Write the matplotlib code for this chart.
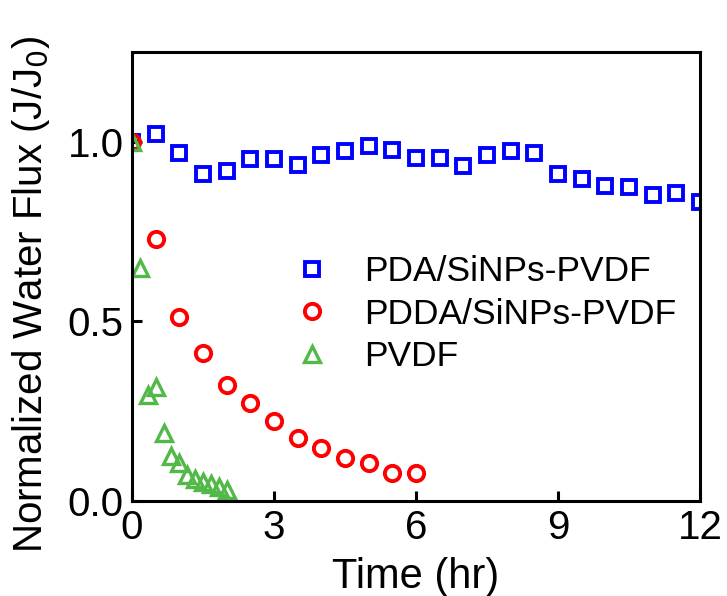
import matplotlib.pyplot as plt

plt.rcParams['font.family'] = ['Liberation Sans', 'DejaVu Sans']

# PDA/SiNPs-PVDF
t_pda = [0, 0.5, 1.0, 1.5, 2.0, 2.5, 3.0, 3.5, 4.0, 4.5, 5.0, 5.5, 6.0,
         6.5, 7.0, 7.5, 8.0, 8.5, 9.0, 9.5, 10.0, 10.5, 11.0, 11.5, 12.0]
j_pda = [1.0, 1.021, 0.969, 0.910, 0.920, 0.953, 0.952, 0.934, 0.963, 0.974, 0.988, 0.977, 0.954,
         0.954, 0.933, 0.963, 0.975, 0.970, 0.909, 0.895, 0.878, 0.874, 0.852, 0.857, 0.831]

# PDDA/SiNPs-PVDF
t_pdda = [0, 0.5, 1.0, 1.5, 2.0, 2.5, 3.0, 3.5, 4.0, 4.5, 5.0, 5.5, 6.0]
j_pdda = [1.0, 0.730, 0.512, 0.411, 0.324, 0.273, 0.222, 0.176, 0.148, 0.119, 0.106, 0.077, 0.077]

# PVDF
t_pvdf = [0, 0.17, 0.33, 0.5, 0.67, 0.83, 1.0, 1.17, 1.33, 1.5, 1.67, 1.83, 2.0]
j_pvdf = [1.0, 0.648, 0.294, 0.317, 0.189, 0.124, 0.106, 0.072, 0.062, 0.054, 0.046, 0.040, 0.030]

fig = plt.figure(figsize=(7.27, 5.96), dpi=100)
ax = fig.add_axes([0.1816, 0.1594, 0.7814, 0.7534])

ax.plot(t_pda, j_pda, 's', ls='none', ms=10.5, mfc='none', mec='#0000ff', mew=2.8,
        label='PDA/SiNPs-PVDF')
ax.plot(t_pdda, j_pdda, 'o', ls='none', ms=11, mfc='none', mec='#ff0000', mew=2.8,
        label='PDDA/SiNPs-PVDF')
ax.plot(t_pvdf, j_pvdf, '^', ls='none', ms=12, mfc='none', mec='#52b848', mew=2.4,
        label='PVDF')

ax.set_xlim(0, 12)
ax.set_ylim(0, 1.25)
ax.set_xticks([0, 3, 6, 9, 12])
ax.set_yticks([0.0, 0.5, 1.0])
ax.set_yticklabels(['0.0', '0.5', '1.0'])

for s in ax.spines.values():
    s.set_linewidth(2.2)
ax.tick_params(direction='in', length=7, width=2.2, labelsize=29, pad=6)

ax.set_xlabel('Time (hr)', fontsize=30)
ax.set_ylabel('Normalized Water Flux (J/J$_0$)', fontsize=29)
ax.xaxis.set_label_coords(0.5, -0.125)
ax.yaxis.set_label_coords(-0.14, 0.46)

ax.legend(loc='upper left', bbox_to_anchor=(277 / 727, 1 - 255 / 596),
          bbox_transform=fig.transFigure, frameon=False, fontsize=25.5,
          handletextpad=0.45, labelspacing=0.27, borderpad=0, borderaxespad=0)

fig.savefig('out.png', dpi=100)
